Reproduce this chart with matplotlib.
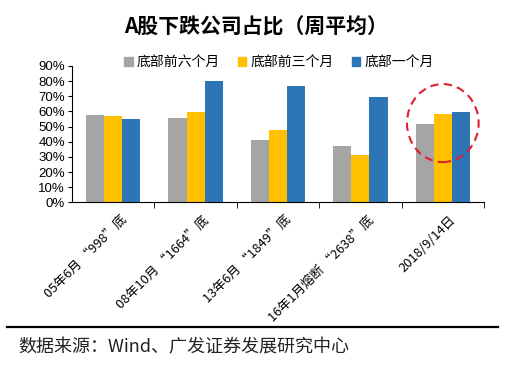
import matplotlib
matplotlib.use("Agg")
import matplotlib.pyplot as plt
import numpy as np
from matplotlib.patches import Ellipse
from matplotlib.lines import Line2D
from matplotlib.patches import Patch

plt.rcParams['font.family'] = ['Noto Sans CJK SC', 'DejaVu Sans']

categories = ['05年6月 “998”底', '08年10月 “1664”底', '13年6月 “1849”底',
              '16年1月熔断 “2638”底', '2018/9/14日']
series_names = ['底部前六个月', '底部前三个月', '底部一个月']
six_months = [0.574, 0.556, 0.41, 0.37, 0.52]
three_months = [0.570, 0.596, 0.477, 0.31, 0.585]
one_month = [0.550, 0.800, 0.768, 0.695, 0.596]
colors = ['#A5A5A5', '#FFC000', '#2E75B6']
yticks = [0, 0.1, 0.2, 0.3, 0.4, 0.5, 0.6, 0.7, 0.8, 0.9]

fig = plt.figure(figsize=(5.22, 3.86), dpi=100)
ax = fig.add_axes([72/522, 1-202.3/386, (484-72)/522, (202.3-66)/386])

x = np.arange(len(categories))
w = 0.22
for i, (vals, c) in enumerate(zip([six_months, three_months, one_month], colors)):
    ax.bar(x + (i-1)*w, vals, width=w, color=c, label=series_names[i])

ax.set_xlim(-0.5, len(categories)-0.5)
ax.set_ylim(0, 0.9)
ax.set_yticks(yticks)
ax.set_yticklabels([f'{int(round(t*100))}%' for t in yticks], fontsize=9.5,
                   family=['Liberation Sans', 'DejaVu Sans'])
ax.set_xticks(x + 0.08)
ax.set_xticklabels(categories, rotation=45, ha='right', rotation_mode='anchor', fontsize=9.3)
ax.tick_params(axis='x', length=0, pad=8)
ax.set_xticks(np.arange(len(categories)) + 0.5, minor=True)
ax.tick_params(axis='x', which='minor', length=4, direction='out', color='black')
ax.tick_params(axis='y', length=3, direction='out', pad=2)
for s in ['top', 'right']:
    ax.spines[s].set_visible(False)
ax.spines['left'].set_color('black')
ax.spines['bottom'].set_color('black')

ell = Ellipse((4, 0.523), width=0.87, height=0.515, fill=False, edgecolor='#E0202E',
              linestyle=(0, (4, 2.5)), linewidth=1.5, clip_on=False)
ax.add_patch(ell)

fig.text(256/522, 1-27/386, 'A股下跌公司占比（周平均）', ha='center', va='center',
         fontsize=15, fontweight='bold')

handles = [Patch(color=c) for c in colors]
fig.legend(handles, series_names, loc='center', bbox_to_anchor=(279/522, 1-62/386),
           ncol=3, frameon=False, fontsize=10, handlelength=0.6, handleheight=0.6,
           handletextpad=0.3, columnspacing=1.3)

fig.add_artist(Line2D([7/522, 498/522], [1-327/386, 1-327/386], color='black',
                      linewidth=1.6, transform=fig.transFigure))
fig.text(18/522, 1-347/386, '数据来源：Wind、广发证券发展研究中心', ha='left', va='center',
         fontsize=13, color='#222222')

fig.savefig('out.png', dpi=100)
